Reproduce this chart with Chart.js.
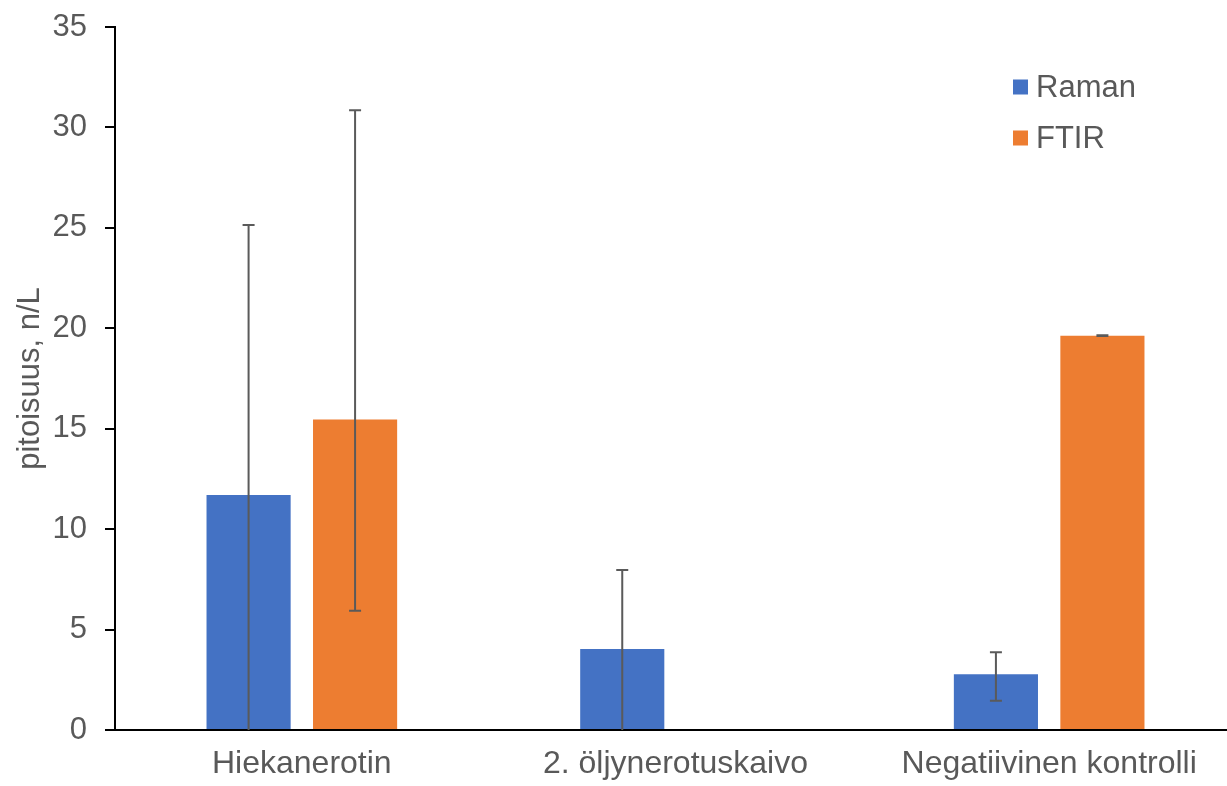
<!DOCTYPE html>
<html>
<head>
<meta charset="utf-8">
<script src="https://cdn.jsdelivr.net/npm/chart.js@4.4.1/dist/chart.umd.min.js"></script>
<style>
  html, body { margin: 0; padding: 0; background: #ffffff; overflow: hidden; }
  #wrap { width: 1227px; height: 786px; overflow: hidden; }
</style>
</head>
<body>
<div id="wrap"><canvas id="chart" width="1236" height="786"></canvas></div>
<script>
// Sample sites
const categories = ['Hiekanerotin', '2. öljynerotuskaivo', 'Negatiivinen kontrolli'];

// Mean concentrations, n/L
const ramanValues = [11.70, 4.03, 2.77];
const ftirValues = [15.46, null, 19.63];

// Error bar extents (up / down), n/L
const ramanErrPlus = [13.44, 3.93, 1.10];
const ramanErrMinus = [13.44, 4.10, 1.31];
const ftirErrPlus = [15.40, null, 0.02];
const ftirErrMinus = [9.52, null, 0.02];

// Axis
const yMin = 0, yMax = 35, yStep = 5;
const yTitle = 'pitoisuus, n/L';

const FONT = "'Liberation Sans', Arial, sans-serif";
const TEXT = '#595959';

// Draws the error whiskers on top of each bar
const errorBars = {
  id: 'errorBars',
  afterDatasetsDraw(chart) {
    const { ctx, scales: { y } } = chart;
    ctx.save();
    ctx.strokeStyle = '#5a5a5a';
    ctx.lineWidth = 2;
    chart.data.datasets.forEach((ds, di) => {
      const meta = chart.getDatasetMeta(di);
      meta.data.forEach((bar, i) => {
        const v = ds.data[i];
        if (v == null || ds.errPlus[i] == null) return;
        const hi = v + ds.errPlus[i];
        const lo = v - ds.errMinus[i];
        const x = bar.x;
        const yHi = y.getPixelForValue(Math.min(hi, yMax));
        const loClipped = lo < yMin;
        const yLo = y.getPixelForValue(Math.max(lo, yMin));
        const cap = 6;
        ctx.beginPath();
        ctx.moveTo(x, yHi);
        ctx.lineTo(x, yLo);
        ctx.moveTo(x - cap, yHi);
        ctx.lineTo(x + cap, yHi);
        if (!loClipped) {
          ctx.moveTo(x - cap, yLo);
          ctx.lineTo(x + cap, yLo);
        }
        ctx.stroke();
      });
    });
    ctx.restore();
  }
};

// Vertical legend inside the plot, top right
const cornerLegend = {
  id: 'cornerLegend',
  afterDraw(chart) {
    const { ctx } = chart;
    const x0 = 1013, y0 = 87, gap = 51, box = 15;
    ctx.save();
    ctx.font = '31px ' + FONT;
    ctx.textBaseline = 'middle';
    ctx.textAlign = 'left';
    chart.data.datasets.forEach((ds, i) => {
      const cy = y0 + i * gap;
      ctx.fillStyle = ds.backgroundColor;
      ctx.fillRect(x0, cy - box / 2, box, box);
      ctx.fillStyle = TEXT;
      ctx.fillText(ds.label, x0 + 23, cy + 1);
    });
    ctx.restore();
  }
};

new Chart(document.getElementById('chart'), {
  type: 'bar',
  data: {
    labels: categories,
    datasets: [
      { label: 'Raman', data: ramanValues, errPlus: ramanErrPlus, errMinus: ramanErrMinus,
        backgroundColor: '#4472C4' },
      { label: 'FTIR', data: ftirValues, errPlus: ftirErrPlus, errMinus: ftirErrMinus,
        backgroundColor: '#ED7D31' }
    ]
  },
  options: {
    responsive: false,
    animation: false,
    devicePixelRatio: 1,
    categoryPercentage: 0.570,
    barPercentage: 0.79,
    layout: { padding: { top: 27, right: 0, bottom: 0, left: 0 } },
    plugins: {
      legend: { display: false },
      tooltip: { enabled: false }
    },
    scales: {
      x: {
        grid: { display: true, drawOnChartArea: false, drawTicks: false },
        border: { display: true, color: '#000000', width: 2 },
        ticks: { color: TEXT, font: { family: FONT, size: 32 }, padding: 15, maxRotation: 0, autoSkip: false },
        afterFit(scale) { scale.height = 56; }
      },
      y: {
        min: yMin, max: yMax,
        grid: { display: true, drawOnChartArea: false, drawTicks: true, tickLength: 10, color: '#000000', lineWidth: 2 },
        border: { display: true, color: '#000000', width: 2 },
        ticks: { stepSize: yStep, color: TEXT, font: { family: FONT, size: 31 }, padding: 18 },
        title: { display: true, text: yTitle, color: TEXT, font: { family: FONT, size: 31 }, padding: { top: 12, bottom: 0 } },
        afterFit(scale) {
          scale.width = 115;
          scale.paddingTop = 0;
          scale.paddingBottom = 0;
        }
      }
    }
  },
  plugins: [errorBars, cornerLegend]
});
</script>
</body>
</html>
